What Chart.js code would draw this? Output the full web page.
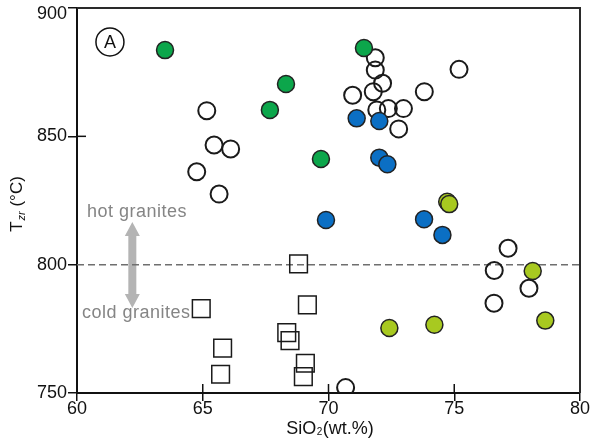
<!DOCTYPE html>
<html>
<head>
<meta charset="utf-8">
<script src="https://cdn.jsdelivr.net/npm/chart.js@4.4.1/dist/chart.umd.min.js"></script>
<style>
  body { margin: 0; background: #fff; }
  #wrap { width: 591px; height: 441px; }
</style>
</head>
<body>
<div id="wrap"><canvas id="zrChart" width="591" height="441"></canvas></div>
<script>
// SiO2 (wt.%) vs zircon saturation temperature
const openCircleSiO2 = [65.16, 65.45, 66.11, 64.76, 65.65, 71.86, 71.86, 72.15, 71.78, 70.96, 73.81, 75.19, 71.92, 72.38, 72.98, 72.79, 70.68, 77.14, 76.59, 77.97, 76.58];
const openCircleT    = [860.0, 846.6, 845.1, 836.2, 827.5, 880.6, 875.8, 870.7, 867.4, 866.0, 867.4, 876.1, 860.3, 860.8, 860.8, 852.9, 752.1, 806.4, 797.7, 790.8, 785.0];

const squareSiO2 = [68.81, 64.94, 69.16, 68.34, 68.47, 65.79, 65.71, 69.08, 69.00];
const squareT    = [800.3, 782.9, 784.3, 773.5, 770.4, 767.5, 757.3, 761.6, 756.4];

const greenSiO2 = [63.5, 68.31, 67.67, 71.41, 69.70];
const greenT    = [883.6, 870.4, 860.3, 884.4, 841.2];

const blueSiO2 = [71.12, 72.02, 72.02, 72.34, 69.90, 73.80, 74.53];
const blueT    = [857.0, 856.0, 841.7, 839.1, 817.4, 817.7, 811.6];

const limeSiO2 = [74.72, 74.80, 72.42, 74.21, 78.12, 78.62];
const limeT    = [824.5, 823.6, 775.3, 776.6, 797.5, 778.2];

const xTicks = [60, 65, 70, 75, 80];
const yTicks = [750, 800, 850, 900];
const boundaryT = 800;

const FONT = "'Liberation Sans', Arial, sans-serif";

function toPoints(xs, ys) {
    return xs.map((x, i) => ({ x: x, y: ys[i] }));
}

function dashedBoundary(ctx, a, y) {
    ctx.strokeStyle = '#6f6f6f';
    ctx.lineWidth = 1.5;
    ctx.setLineDash([7, 4]);
    ctx.beginPath();
    ctx.moveTo(a.left, y.getPixelForValue(boundaryT));
    ctx.lineTo(a.right, y.getPixelForValue(boundaryT));
    ctx.stroke();
    ctx.setLineDash([]);
}

// dashed boundary, inner ticks, labels, arrow, frame, axis titles
const decorations = {
    id: 'decorations',
    beforeDatasetsDraw(chart) {
        const { ctx, chartArea: a, scales: { x, y } } = chart;
        ctx.save();

        // double headed arrow
        const ax = x.getPixelForValue(62.2);
        const top = y.getPixelForValue(816.6);
        const bot = y.getPixelForValue(783.1);
        ctx.fillStyle = '#b4b4b4';
        ctx.beginPath();
        ctx.moveTo(ax, top);
        ctx.lineTo(ax + 7.5, top + 14);
        ctx.lineTo(ax + 4, top + 14);
        ctx.lineTo(ax + 4, bot - 14);
        ctx.lineTo(ax + 7.5, bot - 14);
        ctx.lineTo(ax, bot);
        ctx.lineTo(ax - 7.5, bot - 14);
        ctx.lineTo(ax - 4, bot - 14);
        ctx.lineTo(ax - 4, top + 14);
        ctx.lineTo(ax - 7.5, top + 14);
        ctx.closePath();
        ctx.fill();

        dashedBoundary(ctx, a, y);

        ctx.fillStyle = '#858585';
        ctx.font = '18px ' + FONT;
        ctx.letterSpacing = '0.5px';
        ctx.textAlign = 'left';
        ctx.textBaseline = 'middle';
        ctx.fillText('hot granites', x.getPixelForValue(60.4), y.getPixelForValue(820.5));
        ctx.fillText('cold granites', x.getPixelForValue(60.2), y.getPixelForValue(781.2));
        ctx.letterSpacing = '0px';

        // panel label
        const cx = x.getPixelForValue(61.31), cy = y.getPixelForValue(886.8);
        ctx.strokeStyle = '#111';
        ctx.lineWidth = 1.5;
        ctx.beginPath();
        ctx.arc(cx, cy, 14, 0, Math.PI * 2);
        ctx.stroke();
        ctx.fillStyle = '#111';
        ctx.font = '18px ' + FONT;
        ctx.textAlign = 'center';
        ctx.fillText('A', cx, cy + 1);

        // inner ticks
        ctx.strokeStyle = '#111';
        ctx.lineWidth = 1.5;
        xTicks.slice(1, -1).forEach(v => {
            const px = x.getPixelForValue(v);
            ctx.beginPath();
            ctx.moveTo(px, a.bottom);
            ctx.lineTo(px, a.bottom - 9);
            ctx.stroke();
        });
        yTicks.slice(1, -1).forEach(v => {
            if (v === boundaryT) return;
            const py = y.getPixelForValue(v);
            ctx.beginPath();
            ctx.moveTo(a.left, py);
            ctx.lineTo(a.left + 9, py);
            ctx.stroke();
        });
        ctx.restore();
    },
    afterDraw(chart) {
        const { ctx, chartArea: a, scales: { y } } = chart;
        ctx.save();
        // top and right frame
        ctx.strokeStyle = '#2a2a2a';
        ctx.lineWidth = 2;
        ctx.beginPath();
        ctx.moveTo(a.left, a.top);
        ctx.lineTo(a.right, a.top);
        ctx.lineTo(a.right, a.bottom);
        ctx.stroke();

        // top y label sits a little lower, as in the original
        const topTick = yTicks[yTicks.length - 1];
        ctx.fillStyle = '#111';
        ctx.font = '18px ' + FONT;
        ctx.textAlign = 'right';
        ctx.textBaseline = 'middle';
        ctx.fillText(String(topTick), a.left - 10, y.getPixelForValue(topTick) + 6);

        ctx.textBaseline = 'alphabetic';
        // x title: SiO2(wt.%)
        const big = '18px ' + FONT, small = '10px ' + FONT;
        ctx.font = big;
        const w1 = ctx.measureText('SiO').width;
        const w3 = ctx.measureText('(wt.%)').width;
        ctx.font = small;
        const w2 = ctx.measureText('2').width + 1;
        const sx = 330 - (w1 + w2 + w3) / 2;
        const by = 434;
        ctx.textAlign = 'left';
        ctx.font = big; ctx.fillText('SiO', sx, by);
        ctx.font = small; ctx.fillText('2', sx + w1 + 0.5, by + 1);
        ctx.font = big; ctx.fillText('(wt.%)', sx + w1 + w2, by);

        // y title: Tzr (°C)
        const ybig = '17px ' + FONT;
        ctx.translate(22, 204);
        ctx.rotate(-Math.PI / 2);
        const it = 'italic 11px ' + FONT;
        ctx.font = ybig;
        const t1 = ctx.measureText('T').width;
        const t3 = ctx.measureText(' (°C)').width;
        ctx.font = it;
        const t2 = ctx.measureText('zr').width + 1;
        const tx = -(t1 + t2 + t3) / 2;
        ctx.font = ybig; ctx.fillText('T', tx, 0);
        ctx.font = it; ctx.fillText('zr', tx + t1 + 1, 3);
        ctx.font = ybig; ctx.fillText(' (°C)', tx + t1 + t2, 0);
        ctx.restore();
    }
};

const ctx = document.getElementById('zrChart').getContext('2d');
const zrChart = new Chart(ctx, {
    type: 'scatter',
    data: {
        datasets: [
            {
                label: 'lime',
                data: toPoints(limeSiO2, limeT),
                backgroundColor: '#a8c920',
                borderColor: '#222',
                borderWidth: 1.5,
                pointRadius: 8.5,
            },
            {
                label: 'blue',
                data: toPoints(blueSiO2, blueT),
                backgroundColor: '#0b6fc4',
                borderColor: '#222',
                borderWidth: 1.5,
                pointRadius: 8.5,
            },
            {
                label: 'green',
                data: toPoints(greenSiO2, greenT),
                backgroundColor: '#0ca64b',
                borderColor: '#222',
                borderWidth: 1.5,
                pointRadius: 8.5,
            },
            {
                label: 'open',
                data: toPoints(openCircleSiO2, openCircleT),
                backgroundColor: 'rgba(255,255,255,0)',
                borderColor: '#1a1a1a',
                borderWidth: 2,
                pointRadius: 8.5,
            },
            {
                label: 'squares',
                data: toPoints(squareSiO2, squareT),
                pointStyle: 'rect',
                backgroundColor: 'rgba(255,255,255,0)',
                borderColor: '#1a1a1a',
                borderWidth: 1.5,
                pointRadius: 12.5,
            }
        ]
    },
    options: {
        responsive: false,
        animation: false,
        layout: { autoPadding: false, padding: { top: 8, right: 11, left: 0, bottom: 0 } },
        plugins: {
            legend: { display: false },
            tooltip: { enabled: false }
        },
        scales: {
            x: {
                type: 'linear',
                min: 60,
                max: 80,
                afterFit: s => { s.height = 48; s.paddingLeft = 0; s.paddingRight = 0; },
                afterBuildTicks: s => { s.ticks = xTicks.map(v => ({ value: v })); },
                grid: { drawOnChartArea: false, drawTicks: true, tickLength: 8, color: '#111', lineWidth: 1.5 },
                border: { display: true, color: '#111', width: 2 },
                ticks: { color: '#111', padding: -1, font: { size: 18, family: FONT, lineHeight: 1 } },
                title: { display: false }
            },
            y: {
                type: 'linear',
                min: 750,
                max: 900,
                afterFit: s => { s.width = 77; s.paddingTop = 0; s.paddingBottom = 0; },
                afterBuildTicks: s => { s.ticks = yTicks.map(v => ({ value: v })); },
                grid: { drawOnChartArea: false, drawTicks: true, tickLength: 9, color: '#111', lineWidth: 1.5 },
                border: { display: true, color: '#111', width: 2 },
                ticks: {
                    color: '#111',
                    padding: 1,
                    font: { size: 18, family: FONT },
                    callback: v => (v === yTicks[yTicks.length - 1] ? '' : String(v))
                },
                title: { display: false }
            }
        }
    },
    plugins: [decorations]
});
</script>
</body>
</html>
